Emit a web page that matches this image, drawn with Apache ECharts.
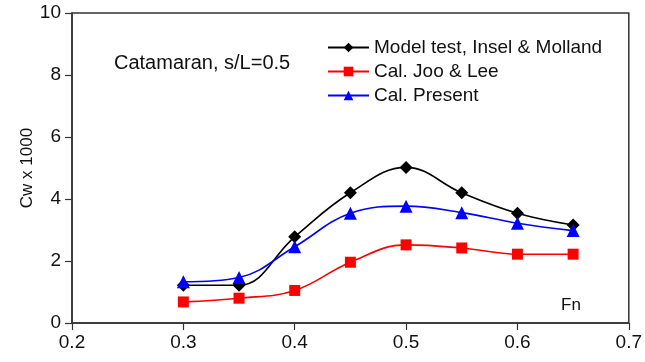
<!DOCTYPE html>
<html>
<head>
<meta charset="utf-8">
<script src="https://cdn.jsdelivr.net/npm/echarts@6/dist/echarts.min.js"></script>
<style>
  html, body { margin: 0; padding: 0; background: #fff; }
  #chart { width: 645px; height: 362px; }
</style>
</head>
<body>
<div id="chart"></div>
<script>
const fn = [0.3, 0.35, 0.4, 0.45, 0.5, 0.55, 0.6, 0.65];
const modelTest = [1.22, 1.22, 2.78, 4.2, 5.02, 4.2, 3.54, 3.16];
const jooLee = [0.68, 0.8, 1.05, 1.96, 2.52, 2.42, 2.22, 2.22];
const present = [1.33, 1.47, 2.46, 3.54, 3.77, 3.56, 3.22, 2.98];

const pairs = (ys) => fn.map((x, i) => [x, ys[i]]);
const font = "Liberation Sans, Arial, sans-serif";

const chart = echarts.init(document.getElementById("chart"));

const mkSeries = (name, ys, color, symbol, size) => ({
  name,
  type: "line",
  data: pairs(ys),
  smooth: 0.4,
  symbol,
  symbolSize: size,
  lineStyle: { color, width: 1.6 },
  itemStyle: { color },
  z: 3,
});

chart.setOption({
  animation: false,
  textStyle: { fontFamily: font },
  grid: {
    left: 72,
    right: 12,
    top: 13,
    bottom: 39,
    show: true,
    borderColor: "#333",
    borderWidth: 1.5,
  },
  title: [
    {
      text: "Catamaran, s/L=0.5",
      left: 109,
      top: 48,
      textStyle: { fontFamily: font, fontSize: 20, fontWeight: "normal", color: "#111" },
    },
    {
      text: "Fn",
      left: 556,
      top: 292,
      textStyle: { fontFamily: font, fontSize: 17, fontWeight: "normal", color: "#111" },
    },
  ],
  legend: {
    orient: "vertical",
    left: 322,
    top: 33,
    itemWidth: 41,
    itemHeight: 12,
    itemGap: 5,
    textStyle: { fontFamily: font, fontSize: 19, color: "#111" },
    data: ["Model test, Insel & Molland", "Cal. Joo & Lee", "Cal. Present"],
  },
  xAxis: {
    type: "value",
    min: 0.2,
    max: 0.7,
    interval: 0.1,
    axisLine: { lineStyle: { color: "#333", width: 1.5 } },
    axisTick: { show: true, length: 7, lineStyle: { color: "#333", width: 1.2 } },
    axisLabel: {
      fontFamily: font,
      fontSize: 19,
      color: "#111",
      margin: 10,
      formatter: (v) => v.toFixed(1),
    },
    splitLine: { show: false },
  },
  yAxis: {
    type: "value",
    min: 0,
    max: 10,
    interval: 2,
    name: "Cw x 1000",
    nameLocation: "middle",
    nameGap: 36,
    nameMoveOverlap: false,
    nameRotate: 90,
    nameTextStyle: { fontFamily: font, fontSize: 17, color: "#111" },
    axisLine: { show: true, lineStyle: { color: "#333", width: 1.5 } },
    axisTick: { show: true, length: 7, lineStyle: { color: "#333", width: 1.2 } },
    axisLabel: { fontFamily: font, fontSize: 19, color: "#111", margin: 11 },
    splitLine: { show: false },
  },
  series: [
    mkSeries("Model test, Insel & Molland", modelTest, "#000000", "diamond", 13),
    mkSeries("Cal. Joo & Lee", jooLee, "#ff0000", "rect", 11),
    mkSeries("Cal. Present", present, "#0000ff", "triangle", 13),
  ],
});
</script>
</body>
</html>
